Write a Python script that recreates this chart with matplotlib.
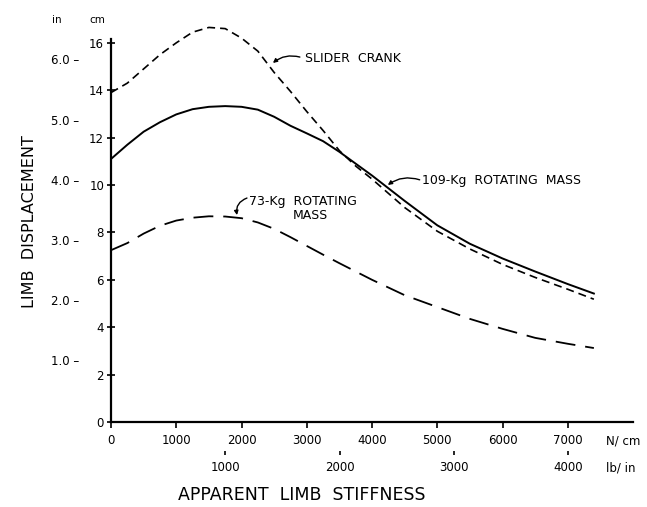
import numpy as np
import matplotlib.pyplot as plt

plt.rcParams['font.family'] = ['DejaVu Sans']

# apparent limb stiffness, N/cm
stiffness_ncm = [0, 250, 500, 750, 1000, 1250, 1500, 1750, 2000, 2250, 2500, 2750,
                 3000, 3250, 3500, 3750, 4000, 4500, 5000, 5500, 6000, 6500, 7000, 7400]

# limb displacement, cm
slider_crank_cm = [13.9, 14.3, 14.9, 15.5, 16.0, 16.45, 16.65, 16.6, 16.2, 15.65, 14.75, 13.95,
                   13.1, 12.3, 11.45, 10.8, 10.25, 9.05, 8.05, 7.3, 6.65, 6.1, 5.6, 5.18]
rot109_cm = [11.1, 11.7, 12.25, 12.65, 12.98, 13.2, 13.3, 13.33, 13.3, 13.18, 12.88, 12.5,
             12.18, 11.85, 11.4, 10.9, 10.4, 9.33, 8.3, 7.52, 6.9, 6.35, 5.82, 5.42]
rot73_cm = [7.25, 7.55, 7.95, 8.28, 8.5, 8.62, 8.68, 8.67, 8.6, 8.42, 8.15, 7.8,
            7.43, 7.06, 6.7, 6.35, 6.0, 5.35, 4.85, 4.35, 3.93, 3.55, 3.3, 3.12]

ncm_ticks = [0, 1000, 2000, 3000, 4000, 5000, 6000, 7000]
lbin_ticks = [1000, 2000, 3000, 4000]
cm_ticks = [0, 2, 4, 6, 8, 10, 12, 14, 16]
in_ticks = [1.0, 2.0, 3.0, 4.0, 5.0, 6.0]

LBIN_TO_NCM = 1.7513
CM_PER_IN = 2.54

fig = plt.figure(figsize=(6.47, 5.07), dpi=100)
ax = fig.add_axes([0.1716, 0.1677, 0.8068, 0.8039])

ax.plot(stiffness_ncm, slider_crank_cm, color='black', lw=1.2, dashes=(4.8, 3))
ax.plot(stiffness_ncm, rot109_cm, color='black', lw=1.4)
ax.plot(stiffness_ncm, rot73_cm, color='black', lw=1.3, dashes=(11, 5.5))

ax.set_xlim(0, 8000)
ax.set_ylim(0, 17.2)

for s in ['top', 'right']:
    ax.spines[s].set_visible(False)
ax.spines['left'].set_linewidth(1.6)
ax.spines['bottom'].set_linewidth(1.6)
ax.spines['left'].set_bounds(0, 16.15)

ax.set_xticks(ncm_ticks)
ax.set_xticklabels([str(t) for t in ncm_ticks])
ax.set_yticks(cm_ticks)
ax.set_yticklabels([str(t) for t in cm_ticks])
ax.tick_params(axis='x', direction='out', length=4, width=1.2, pad=5, labelsize=8.5)
ax.tick_params(axis='y', direction='inout', length=6, width=1.2, pad=2, labelsize=8.5)

# lb/in scale under the N/cm scale
secax = ax.secondary_xaxis(-0.071, functions=(lambda x: x / LBIN_TO_NCM,
                                              lambda x: x * LBIN_TO_NCM))
secax.spines['bottom'].set_visible(False)
secax.set_xticks(lbin_ticks)
secax.set_xticklabels([str(t) for t in lbin_ticks])
secax.tick_params(axis='x', direction='out', length=3, width=1.2, pad=4, labelsize=8.5)

# inch labels left of the cm scale
for v in in_ticks:
    ax.annotate('%.1f \u2013' % v, xy=(0, v * CM_PER_IN), xycoords=('axes fraction', 'data'),
                xytext=(-23, 0), textcoords='offset points', ha='right', va='center',
                fontsize=8.5)

fig.text(57 / 647, 1 - 20 / 507, 'in', fontsize=7.5, ha='center', va='center')
fig.text(97 / 647, 1 - 20 / 507, 'cm', fontsize=7.5, ha='center', va='center')
fig.text(30 / 647, 1 - 222 / 507, 'LIMB  DISPLACEMENT', fontsize=11.5, rotation=90,
         ha='center', va='center')
fig.text(302 / 647, 1 - 495 / 507, 'APPARENT  LIMB  STIFFNESS', fontsize=12.5,
         ha='center', va='center')
fig.text(606 / 647, 1 - 441 / 507, 'N/ cm', fontsize=8.5, ha='left', va='center')
fig.text(606 / 647, 1 - 468 / 507, 'lb/ in', fontsize=8.5, ha='left', va='center')

arrow = dict(arrowstyle='-|>', color='black', lw=1.0, mutation_scale=6,
             shrinkA=0, shrinkB=0, connectionstyle='arc3,rad=0.25')
ax.annotate('', xy=(2481, 15.15), xytext=(2894, 15.4), arrowprops=arrow)
ax.text(2971, 15.36, 'SLIDER  CRANK', fontsize=9, ha='left', va='center')

ax.annotate('', xy=(4242, 10.0), xytext=(4730, 10.22), arrowprops=arrow)
ax.text(4763, 10.21, '109-Kg  ROTATING  MASS', fontsize=9, ha='left', va='center')

arrow73 = dict(arrow, connectionstyle='arc3,rad=0.4')
ax.annotate('', xy=(1930, 8.73), xytext=(2083, 9.45), arrowprops=arrow73)
ax.text(2120, 9.32, '73-Kg  ROTATING', fontsize=9, ha='left', va='center')
ax.text(2780, 8.72, 'MASS', fontsize=9, ha='left', va='center')

fig.savefig('out.png', dpi=100)
